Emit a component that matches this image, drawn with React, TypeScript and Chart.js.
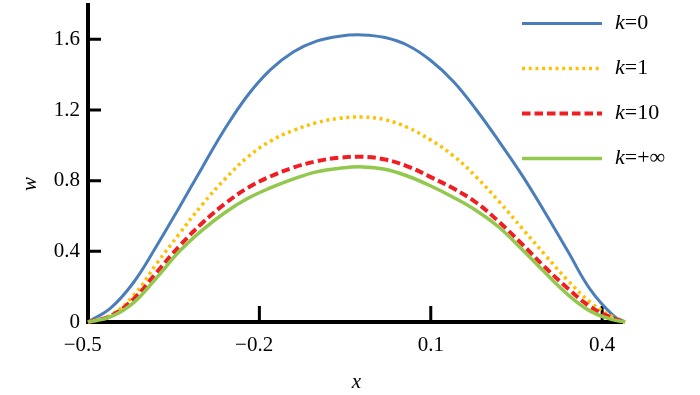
import React, { useEffect, useRef } from "react";
import { Chart, registerables } from "chart.js";

Chart.register(...registerables);

const xValues = [
  -0.5, -0.46, -0.42, -0.38, -0.34, -0.3, -0.26, -0.22, -0.18, -0.14, -0.1, -0.06, -0.02,
  0.02, 0.06, 0.1, 0.14, 0.18, 0.22, 0.26, 0.3, 0.34, 0.38, 0.42, 0.44,
];
const wK0 = [
  0, 0.08, 0.225, 0.43, 0.65, 0.875, 1.095, 1.285, 1.43, 1.53, 1.59, 1.618, 1.625,
  1.61, 1.565, 1.48, 1.36, 1.2, 1.02, 0.83, 0.62, 0.4, 0.18, 0.035, 0,
];
const wK1 = [
  0, 0.04, 0.15, 0.33, 0.5, 0.665, 0.81, 0.935, 1.025, 1.085, 1.128, 1.153, 1.16,
  1.145, 1.1, 1.03, 0.94, 0.82, 0.68, 0.53, 0.38, 0.235, 0.11, 0.025, 0,
];
const wK10 = [
  0, 0.035, 0.13, 0.28, 0.43, 0.56, 0.67, 0.76, 0.825, 0.875, 0.91, 0.93, 0.935,
  0.92, 0.88, 0.82, 0.755, 0.675, 0.565, 0.44, 0.31, 0.19, 0.085, 0.02, 0,
];
const wKinf = [
  0, 0.03, 0.11, 0.25, 0.4, 0.52, 0.62, 0.7, 0.76, 0.81, 0.85, 0.87, 0.878,
  0.865, 0.825, 0.77, 0.705, 0.63, 0.535, 0.41, 0.28, 0.155, 0.06, 0.012, 0,
];
const legendValues = ["0", "1", "10", "+\u221E"];
const xTicks = [-0.5, -0.2, 0.1, 0.4];
const yTicks = [0, 0.4, 0.8, 1.2, 1.6];

const SERIF = "'Liberation Serif', 'Times New Roman', serif";

const seriesStyles = [
  { color: "#4A7EBB", width: 3, dash: [] as number[] },
  { color: "#FFC000", width: 3.5, dash: [3, 3.7] },
  { color: "#F01E23", width: 4, dash: [8.5, 4] },
  { color: "#92C84E", width: 3.5, dash: [] as number[] },
];

const fmt = (v: number) => {
  if (v === 0) return "0";
  const s = Math.abs(v).toFixed(1);
  return v < 0 ? "\u2212" + s + "\u2002" : s;
};

const axesPlugin = {
  id: "axesPlugin",
  beforeDatasetsDraw(chart: any) {
    const { ctx, chartArea, scales } = chart;
    const xs = scales.x;
    const ys = scales.y;
    ctx.save();
    ctx.strokeStyle = "#000";
    ctx.lineCap = "butt";
    ctx.lineWidth = 4;
    ctx.beginPath();
    ctx.moveTo(chartArea.left, chartArea.top - 1);
    ctx.lineTo(chartArea.left, chartArea.bottom + 2);
    ctx.moveTo(chartArea.left - 2, chartArea.bottom);
    ctx.lineTo(chartArea.right - 2, chartArea.bottom);
    ctx.stroke();
    ctx.lineWidth = 3;
    ctx.beginPath();
    for (const t of ys.ticks) {
      if (t.value === 0) continue;
      const py = ys.getPixelForValue(t.value);
      ctx.moveTo(chartArea.left, py);
      ctx.lineTo(chartArea.left + 13, py);
    }
    for (const t of xs.ticks) {
      if (t.value === xs.min) continue;
      const px = xs.getPixelForValue(t.value);
      ctx.moveTo(px, chartArea.bottom);
      ctx.lineTo(px, chartArea.bottom - 16);
    }
    ctx.stroke();
    ctx.restore();
  },
};

const legendPlugin = {
  id: "customLegend",
  afterDraw(chart: any) {
    const { ctx, chartArea } = chart;
    ctx.save();
    chart.data.datasets.forEach((ds: any, i: number) => {
      const y = 23.5 + i * 45;
      const x0 = chartArea.right - 103;
      const x1 = chartArea.right - 23;
      ctx.strokeStyle = ds.borderColor;
      ctx.lineWidth = ds.borderWidth;
      ctx.setLineDash(ds.borderDash || []);
      ctx.beginPath();
      ctx.moveTo(x0, y);
      ctx.lineTo(x1, y);
      ctx.stroke();
      ctx.setLineDash([]);
      ctx.fillStyle = "#000";
      ctx.textBaseline = "middle";
      ctx.textAlign = "left";
      const tx = chartArea.right - 10;
      ctx.font = "italic 22px " + SERIF;
      ctx.fillText("k", tx, y);
      const kw = ctx.measureText("k").width;
      ctx.font = "22px " + SERIF;
      ctx.fillText("=" + legendValues[i], tx + kw, y);
    });
    ctx.restore();
  },
};

export default function App() {
  const ref = useRef<HTMLCanvasElement | null>(null);
  useEffect(() => {
    if (!ref.current) return;
    const seriesData = [wK0, wK1, wK10, wKinf];
    const chart = new Chart(ref.current, {
      type: "line",
      data: {
        datasets: seriesData.map((arr, i) => ({
          label: "k=" + legendValues[i],
          data: xValues.map((x, j) => ({ x, y: arr[j] })),
          borderColor: seriesStyles[i].color,
          borderWidth: seriesStyles[i].width,
          borderDash: seriesStyles[i].dash,
          pointRadius: 0,
          fill: false,
          tension: 0.4,
          clip: false as any,
          order: 3 - i,
        })),
      },
      options: {
        animation: false,
        responsive: false,
        events: [],
        layout: { padding: { left: 0, right: 75, top: 4, bottom: 0 } },
        plugins: { legend: { display: false }, tooltip: { enabled: false } },
        scales: {
          x: {
            type: "linear",
            min: -0.5,
            max: 0.44,
            grid: { display: false, drawTicks: false },
            border: { display: false },
            afterBuildTicks: (s: any) => {
              s.ticks = xTicks.map((v) => ({ value: v }));
            },
            afterFit: (s: any) => {
              s.height = 73;
              s.paddingLeft = 0;
              s.paddingRight = 0;
              s.paddingTop = 0;
              s.paddingBottom = 0;
            },
            ticks: {
              padding: 11,
              color: "#000",
              font: { family: SERIF, size: 21 },
              maxRotation: 0,
              autoSkip: false,
              callback: (v: any) => fmt(Number(v)),
            },
            title: {
              display: true,
              text: "x",
              color: "#000",
              font: { family: SERIF, size: 21, style: "italic" },
              padding: { top: 0, bottom: 0 },
            },
          },
          y: {
            type: "linear",
            min: 0,
            max: 1.8,
            grid: { display: false, drawTicks: false },
            border: { display: false },
            afterBuildTicks: (s: any) => {
              s.ticks = yTicks.map((v) => ({ value: v }));
            },
            afterFit: (s: any) => {
              s.width = 88;
              s.paddingLeft = 0;
              s.paddingRight = 0;
              s.paddingTop = 0;
              s.paddingBottom = 0;
            },
            ticks: {
              padding: 8,
              color: "#000",
              font: { family: SERIF, size: 21 },
              autoSkip: false,
              callback: (v: any) => fmt(Number(v)),
            },
            title: {
              display: true,
              text: "w\u2003\u2003",
              color: "#000",
              font: { family: SERIF, size: 21, style: "italic" },
              padding: { top: 18, bottom: 0 },
            },
          },
        },
      },
      plugins: [axesPlugin, legendPlugin],
    });
    return () => chart.destroy();
  }, []);
  return (
    <div style={{ position: "fixed", left: 0, top: 0, width: 700, height: 395, background: "#fff" }}>
      <canvas ref={ref} width={700} height={395} style={{ width: 700, height: 395 }} />
    </div>
  );
}
